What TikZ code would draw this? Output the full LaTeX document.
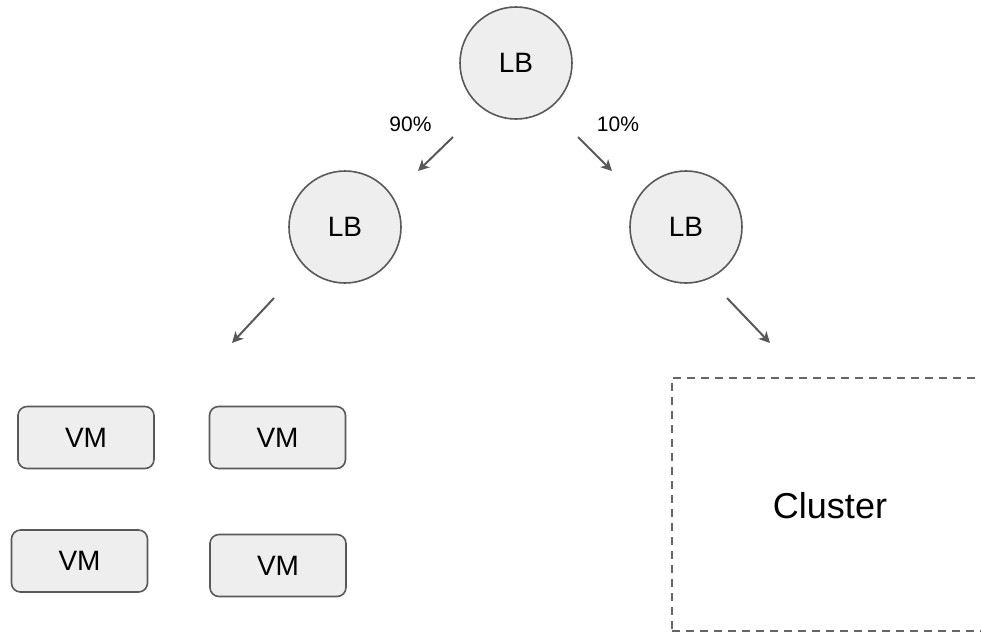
\documentclass[tikz,border=0pt]{standalone}
\usepackage{fontspec}
\setmainfont{Liberation Sans}
\usetikzlibrary{arrows.meta}
\definecolor{edgegray}{HTML}{595959}
\definecolor{dashgray}{HTML}{666666}
\definecolor{boxfill}{HTML}{EEEEEE}
\begin{document}
\begin{tikzpicture}[x=1pt,y=-1pt,
  lbnode/.style={circle, draw=edgegray, fill=boxfill, line width=1.6pt,
    minimum size=112pt, inner sep=0pt, font=\fontsize{28}{32}\selectfont},
  vmbox/.style={rectangle, rounded corners=9pt, draw=edgegray, fill=boxfill,
    line width=1.6pt, minimum width=136pt, minimum height=62pt, inner sep=0pt,
    font=\fontsize{28}{32}\selectfont},
  clusterbox/.style={rectangle, draw=dashgray, line width=1.6pt,
    dash pattern=on 8pt off 6pt, minimum width=312pt, minimum height=253pt,
    inner sep=0pt},
  flow/.style={draw=edgegray, line width=2pt,
    -{Stealth[length=11pt,width=11pt,inset=3pt]}},
  pct/.style={inner sep=0pt, font=\fontsize{21}{24}\selectfont}]
  \useasboundingbox (0,0) rectangle (981,633);

  % load balancers
  \node[lbnode] (lbtop)   at (516,63)  {LB};
  \node[lbnode] (lbleft)  at (345,227) {LB};
  \node[lbnode] (lbright) at (686,227) {LB};

  % virtual machines
  \node[vmbox] (vma) at (86,437.5)  {VM};
  \node[vmbox] (vmb) at (277.5,437.5) {VM};
  \node[vmbox] (vmc) at (79.5,561) {VM};
  \node[vmbox] (vmd) at (278,565.5) {VM};

  % cluster region (right side runs past the page edge)
  \node[clusterbox] (cluster) at (828,504.5) {};
  \node[inner sep=0pt, font=\fontsize{36}{40}\selectfont]
    (clusterlabel) at (830,505.5) {Cluster};

  % traffic split labels
  \node[pct] (pnine) at (410.5,124) {90\%};
  \node[pct] (pone)  at (618,124)   {10\%};

  % arrow end points
  \coordinate (aS) at (453,137);
  \coordinate (aE) at (418,171);
  \coordinate (bS) at (578,137);
  \coordinate (bE) at (612,171);
  \coordinate (cS) at (274,298);
  \coordinate (cE) at (232,343);
  \coordinate (dS) at (727,298);
  \coordinate (dE) at (770,343);

  \draw[flow] (aS) -- (aE);
  \draw[flow] (bS) -- (bE);
  \draw[flow] (cS) -- (cE);
  \draw[flow] (dS) -- (dE);
\end{tikzpicture}
\end{document}
